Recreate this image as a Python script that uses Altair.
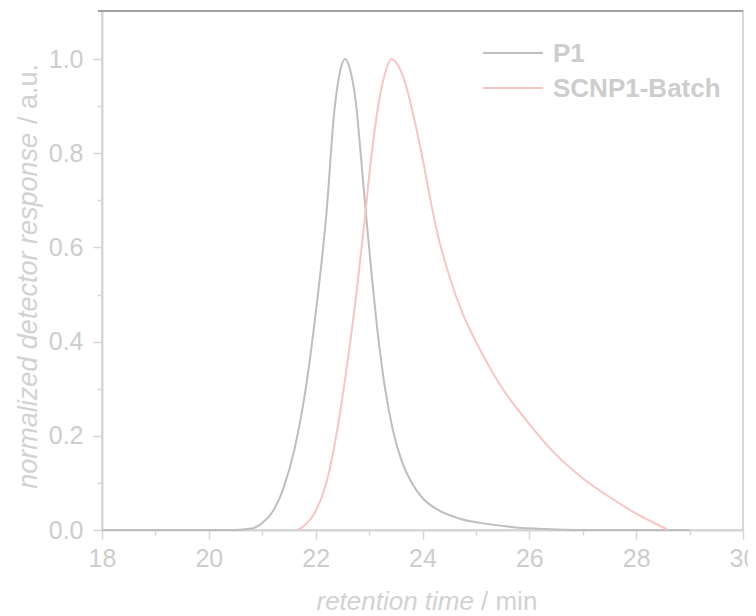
import altair as alt
import pandas as pd

series_names = ["P1", "SCNP1-Batch"]
series_colors = ["#bebebe", "#f5c6c6"]

p1_time = [18.0, 20.5, 20.8, 21.0, 21.2, 21.4, 21.6, 21.8, 22.0, 22.2, 22.35, 22.45, 22.55,
           22.65, 22.75, 22.85, 22.95, 23.05, 23.15, 23.3, 23.45, 23.6, 23.8, 24.0, 24.3,
           24.7, 25.2, 25.7, 26.3, 27.0, 29.0]
p1_resp = [0.0, 0.0, 0.003, 0.015, 0.04, 0.09, 0.17, 0.29, 0.46, 0.67, 0.89, 0.97, 1.0,
           0.975, 0.91, 0.79, 0.66, 0.54, 0.43, 0.30, 0.21, 0.15, 0.10, 0.068, 0.042,
           0.024, 0.013, 0.006, 0.002, 0.0, 0.0]

scnp_time = [21.65, 21.8, 22.0, 22.2, 22.4, 22.6, 22.75, 22.9, 23.05, 23.2, 23.3, 23.42,
             23.55, 23.7, 23.85, 24.0, 24.15, 24.3, 24.5, 24.75, 25.0, 25.5, 26.0, 26.5,
             27.0, 27.5, 28.0, 28.3, 28.6]
scnp_resp = [0.0, 0.01, 0.04, 0.10, 0.21, 0.36, 0.49, 0.64, 0.80, 0.92, 0.97, 1.0,
             0.985, 0.94, 0.87, 0.79, 0.70, 0.62, 0.54, 0.46, 0.40, 0.30, 0.225, 0.16,
             0.11, 0.07, 0.035, 0.017, 0.0]

x_ticks = list(range(18, 31))
y_ticks = [round(i * 0.1, 1) for i in range(11)]

x_title_italic = "retention time"
x_title_plain = "/ min"
y_title_italic = "normalized detector response"
y_title_plain = "/ a.u."

FONT = "Liberation Sans"
AXIS_COLOR = "#d6d6d6"
LABEL_COLOR = "#cdcdcd"
TITLE_COLOR = "#d2d2d2"
W, H = 641, 519

df = pd.concat([
    pd.DataFrame({"time": p1_time, "resp": p1_resp, "series": series_names[0]}),
    pd.DataFrame({"time": scnp_time, "resp": scnp_resp, "series": series_names[1]}),
])

x_axis = alt.Axis(
    values=x_ticks, title=None, grid=False, format="d",
    labelExpr="datum.value % 2 === 0 ? datum.label : ''",
    tickSize={"condition": {"test": "datum.value % 2 === 0", "value": 9}, "value": 5},
    labelFont=FONT, labelFontSize=25, labelColor=LABEL_COLOR, labelPadding=7,
    labelFlush=False, labelOverlap=False,
    domainColor=AXIS_COLOR, domainWidth=2, tickColor=AXIS_COLOR, tickWidth=1.5,
)
y_axis = alt.Axis(
    values=y_ticks, title=None, grid=False, format=".1f",
    labelExpr="round(datum.value * 10) % 2 === 0 ? datum.label : ''",
    tickSize={"condition": {"test": "round(datum.value * 10) % 2 === 0", "value": 9}, "value": 5},
    labelFont=FONT, labelFontSize=25, labelColor=LABEL_COLOR, labelPadding=10,
    labelFlush=False, labelOverlap=False,
    domainColor=AXIS_COLOR, domainWidth=2, tickColor=AXIS_COLOR, tickWidth=1.5,
)

lines = alt.Chart(df).mark_line(strokeWidth=2, interpolate="monotone").encode(
    x=alt.X("time:Q", scale=alt.Scale(domain=[18, 30], nice=False, zero=False), axis=x_axis),
    y=alt.Y("resp:Q", scale=alt.Scale(domain=[0, 1.102], nice=False), axis=y_axis),
    color=alt.Color("series:N", scale=alt.Scale(domain=series_names, range=series_colors), legend=None),
    detail="series:N",
)

one = pd.DataFrame({"k": [0]})

top_rule = alt.Chart(one).mark_rule(color="#a0a0a0", strokeWidth=2).encode(
    x=alt.value(-4), x2=alt.value(W), y=alt.value(0)
)

legend_layers = []
for i, (name, col) in enumerate(zip(series_names, series_colors)):
    ly = 42 + 35 * i
    legend_layers.append(
        alt.Chart(one).mark_rule(color=col, strokeWidth=2).encode(
            x=alt.value(381), x2=alt.value(441), y=alt.value(ly)
        )
    )
    legend_layers.append(
        alt.Chart(one).mark_text(
            font=FONT, fontSize=26, fontWeight="bold", color=LABEL_COLOR,
            align="left", baseline="middle"
        ).encode(x=alt.value(451), y=alt.value(ly + 1), text=alt.value(name))
    )

xt1 = alt.Chart(one).mark_text(
    font=FONT, fontSize=26, fontStyle="italic", color=TITLE_COLOR, align="right", baseline="alphabetic"
).encode(x=alt.value(372), y=alt.value(599), text=alt.value(x_title_italic))
xt2 = alt.Chart(one).mark_text(
    font=FONT, fontSize=26, color=TITLE_COLOR, align="left", baseline="alphabetic"
).encode(x=alt.value(379), y=alt.value(599), text=alt.value(x_title_plain))

yt1 = alt.Chart(one).mark_text(
    font=FONT, fontSize=27, fontStyle="italic", color=TITLE_COLOR, align="right",
    baseline="alphabetic", angle=270
).encode(x=alt.value(-65), y=alt.value(122), text=alt.value(y_title_italic))
yt2 = alt.Chart(one).mark_text(
    font=FONT, fontSize=27, color=TITLE_COLOR, align="left", baseline="alphabetic", angle=270
).encode(x=alt.value(-65), y=alt.value(113), text=alt.value(y_title_plain))

chart = alt.layer(lines, top_rule, *legend_layers, xt1, xt2, yt1, yt2).properties(
    width=W, height=H,
    autosize=alt.AutoSizeParams(type="none"),
    padding={"left": 94, "top": 3, "right": 5, "bottom": 86},
    background="#ffffff",
).configure_view(stroke="#d8d8d8", strokeWidth=2)

chart.save("out.html", embed_options={"renderer": "svg", "actions": False})
